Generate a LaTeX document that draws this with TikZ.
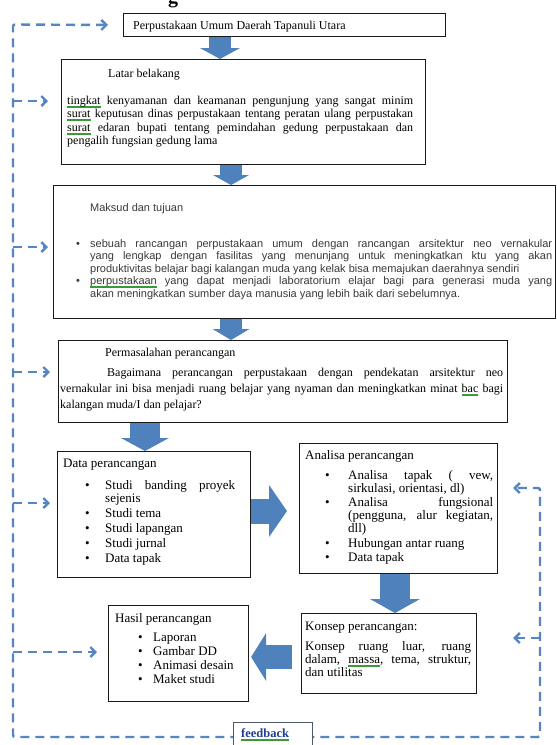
\documentclass[tikz,border=0pt]{standalone}
\usepackage{fontspec}
\setmainfont{Liberation Serif}
\newfontfamily\arialf{Liberation Sans}
\usetikzlibrary{arrows.meta,calc}
\definecolor{arrowblue}{HTML}{4F81BD}
\definecolor{loopblue}{HTML}{5585C5}
\definecolor{spellgreen}{HTML}{3A9A3A}
\definecolor{fbtext}{HTML}{1F3F95}
\definecolor{fbframe}{HTML}{4A5A6A}
\definecolor{boxline}{HTML}{1A1A1A}
\definecolor{greytext}{HTML}{3A3A3A}
\newsavebox\gwbox
\newcommand\gword[1]{\sbox\gwbox{#1}\leavevmode\rlap{\textcolor{spellgreen}{\rule[-2.2pt]{\wd\gwbox}{0.5pt}}}\rlap{\textcolor{spellgreen}{\rule[-3.2pt]{\wd\gwbox}{0.5pt}}}\usebox\gwbox}
\newcommand\bitem[2]{\par\noindent\hangindent=#1\hangafter=1\makebox[#1][l]{\textbullet}#2}
\newcommand\lowfont{\fontsize{13}{13}\selectfont}
\newcommand\midfont{\fontsize{12}{13.5}\selectfont}
\tikzset{
  box/.style={draw=boxline, line width=1.1pt, fill=white, rectangle, inner sep=0pt, anchor=north west},
  txt/.style={inner sep=0pt, anchor=base west, text=black},
  barrow/.style n args={3}{draw=arrowblue, line width=#1, -{Triangle[length=#3, width=#2, line width=0pt]}},
  fbline/.style={draw=loopblue, line width=2.4pt, dash pattern=on 9pt off 6pt},
  fbtip/.style={-{Straight Barb[length=5pt,width=10pt]}}
}
\begin{document}
\begin{tikzpicture}[x=1pt,y=-1pt]
\useasboundingbox (0,0) rectangle (557,745);
\fill[white] (0,0) rectangle (557,745);

% cut-off heading
\node[txt, anchor=base, font=\bfseries\fontsize{20}{20}\selectfont] (head) at (173,3) {g};

% feedback loop
\coordinate (lt) at (13,24.5);
\coordinate (lb) at (13,737);
\coordinate (rb) at (540,737);
\coordinate (rt) at (540,488);
\coordinate (b1) at (13,101);
\coordinate (b2) at (13,247);
\coordinate (b3) at (13,372);
\coordinate (b4) at (13,503);
\coordinate (b5) at (13,652);
\coordinate (b6) at (540,638);

% boxes
\node[box, minimum width=322pt, minimum height=23pt] (topbox) at (123,13) {};
\node[box, minimum width=364pt, minimum height=105pt] (latar) at (61,59) {};
\node[box, minimum width=502pt, minimum height=133pt] (maksud) at (53,185) {};
\node[box, minimum width=449pt, minimum height=82pt] (perm) at (58,340) {};
\node[box, minimum width=193pt, minimum height=126pt] (data) at (57,451) {};
\node[box, minimum width=198pt, minimum height=130pt] (analisa) at (299,443) {};
\node[box, minimum width=175pt, minimum height=80pt] (konsep) at (301,613) {};
\node[box, minimum width=140pt, minimum height=96pt] (hasil) at (108,605) {};

\draw[fbline, {Straight Barb[length=5pt,width=10pt]}-{Straight Barb[length=5pt,width=10pt]}, shorten <=15pt, shorten >=15pt, rounded corners=2pt]
  (topbox.west) -- (lt) -- (lb) -- (rb) -- (rt) -- (analisa.east |- rt);
\draw[fbline, fbtip, shorten >=13pt] (b1) -- (latar.west |- b1);
\draw[fbline, fbtip, shorten >=5pt] (b2) -- (maksud.west |- b2);
\draw[fbline, fbtip, shorten >=8pt] (b3) -- (perm.west |- b3);
\draw[fbline, fbtip, shorten >=7pt] (b4) -- (data.west |- b4);
\draw[fbline, fbtip, shorten >=11pt] (b5) -- (hasil.west |- b5);
\draw[fbline, fbtip, shorten >=36pt] (b6) -- (konsep.east |- b6);

% feedback label
\node[box, draw=fbframe, line width=0.8pt, minimum width=79pt, minimum height=30pt] (fb) at (233,722) {};
\node[txt, font=\bfseries\fontsize{12.5}{12.5}\selectfont, text=fbtext] (fbt) at (241,737) {\gword{feedback}};

% block arrows
\draw[barrow={22pt}{40pt}{11pt}] (220,0 |- topbox.south) -- (220,0 |- latar.north);
\draw[barrow={22pt}{36pt}{10pt}] (231,0 |- latar.south) -- (231,0 |- maksud.north);
\draw[barrow={22pt}{37pt}{11pt}] (231,0 |- maksud.south) -- (231,0 |- perm.north);
\draw[barrow={30pt}{48pt}{13pt}] (145,0 |- perm.south) -- (145,0 |- data.north);
\draw[barrow={25pt}{52pt}{18pt}, shorten >=12pt] (data.east |- 0,511) -- (analisa.west |- 0,511);
\draw[barrow={30pt}{50pt}{14pt}] (395,0 |- analisa.south) -- (395,0 |- konsep.north);
\draw[barrow={24pt}{48pt}{15pt}, shorten <=9pt, shorten >=2pt] (konsep.west |- 0,657) -- (hasil.east |- 0,657);

% texts
\node[txt, font=\midfont] (topbox-t) at (133,29) {Perpustakaan Umum Daerah Tapanuli Utara};

\node[txt, font=\midfont] (latar-t) at (108,77) {Latar belakang};
\node[txt] (latar-b) at (67,104) {\parbox[t]{346pt}{\midfont
\gword{tingkat} kenyamanan dan keamanan pengunjung yang sangat minim\linebreak
\gword{surat} keputusan dinas perpustakaan tentang peratan ulang perpustakan\linebreak
\gword{surat} edaran bupati tentang pemindahan gedung perpustakaan dan\linebreak
pengalih fungsian gedung lama}};

\node[txt, font=\arialf\fontsize{11}{12}\selectfont, text=greytext] (maksud-t) at (90,211) {Maksud dan tujuan};
\node[txt, text=greytext] (maksud-b) at (76,247) {\parbox[t]{476pt}{\arialf\fontsize{11}{12.5}\selectfont
\bitem{14pt}{sebuah rancangan perpustakaan umum dengan rancangan arsitektur neo vernakular\linebreak
yang lengkap dengan fasilitas yang menunjang untuk meningkatkan ktu yang akan\linebreak
produktivitas belajar bagi kalangan muda yang kelak bisa memajukan daerahnya sendiri}
\bitem{14pt}{\gword{perpustakaan} yang dapat menjadi laboratorium elajar bagi para generasi muda yang\linebreak
akan meningkatkan sumber daya manusia yang lebih baik dari sebelumnya.}}};

\node[txt, font=\midfont] (perm-t) at (105,356) {Permasalahan perancangan};
\node[txt] (perm-b) at (60,376) {\parbox[t]{443pt}{\fontsize{12}{16}\selectfont
\hspace*{47pt}Bagaimana perancangan perpustakaan dengan pendekatan arsitektur neo\linebreak
vernakular ini bisa menjadi ruang belajar yang nyaman dan meningkatkan minat \gword{bac} bagi\linebreak
kalangan muda/I dan pelajar?}};

\node[txt, font=\lowfont] (data-t) at (63,467) {Data perancangan};
\node[txt] (data-b) at (85,489) {\parbox[t]{150pt}{\lowfont
\bitem{20pt}{Studi banding proyek\linebreak sejenis}\setlength\parskip{2pt}
\bitem{20pt}{Studi tema}
\bitem{20pt}{Studi lapangan}
\bitem{20pt}{Studi jurnal}
\bitem{20pt}{Data tapak}}};

\node[txt, font=\lowfont] (analisa-t) at (305,459) {Analisa perancangan};
\node[txt] (analisa-b) at (325,479) {\parbox[t]{168pt}{\lowfont
\bitem{23pt}{Analisa tapak ( vew,\linebreak sirkulasi, orientasi, dl)}\setlength\parskip{1.5pt}
\bitem{23pt}{Analisa fungsional\linebreak (pengguna, alur kegiatan,\linebreak dll)}
\bitem{23pt}{Hubungan antar ruang}
\bitem{23pt}{Data tapak}}};

\node[txt, font=\lowfont] (konsep-t) at (305,630) {Konsep perancangan:};
\node[txt] (konsep-b) at (305,650) {\parbox[t]{166pt}{\lowfont
Konsep ruang luar, ruang\linebreak
dalam, \gword{massa}, tema, struktur,\linebreak
dan utilitas}};

\node[txt, font=\lowfont] (hasil-t) at (115,622) {Hasil perancangan};
\node[txt] (hasil-b) at (138,641) {\parbox[t]{105pt}{\lowfont\setlength\parskip{1pt}
\bitem{15pt}{Laporan}
\bitem{15pt}{Gambar DD}
\bitem{15pt}{Animasi desain}
\bitem{15pt}{Maket studi}}};
\end{tikzpicture}
\end{document}
